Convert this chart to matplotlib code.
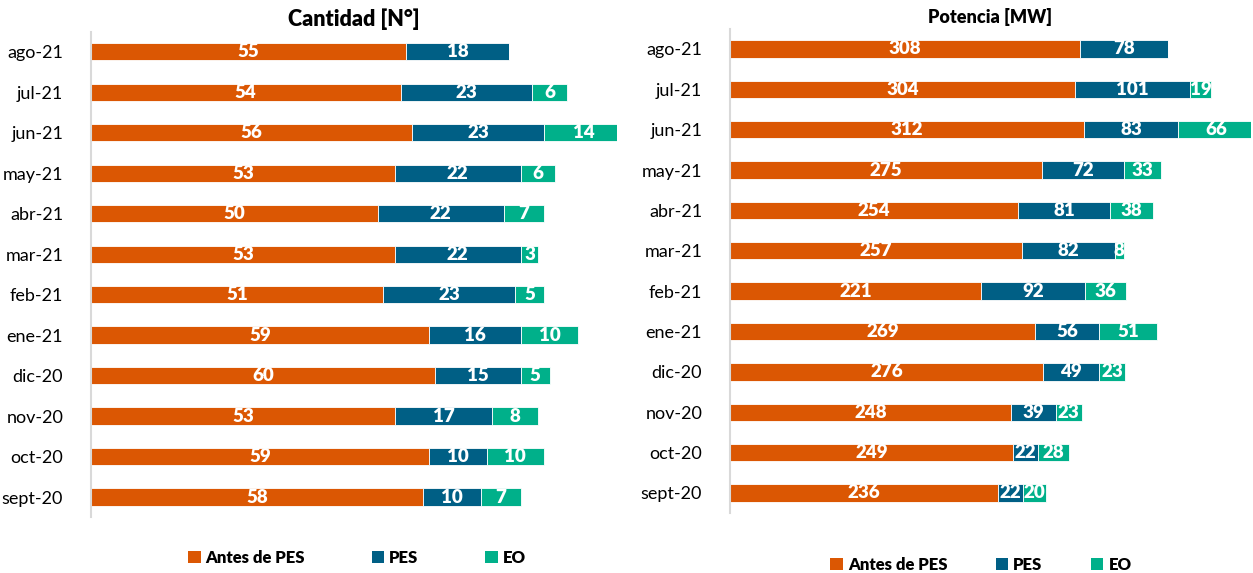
import matplotlib
matplotlib.use("Agg")
import matplotlib.pyplot as plt
from matplotlib.patches import Patch
import numpy as np

plt.rcParams['font.family'] = ['Lato', 'DejaVu Sans']

categories = ["sept-20", "oct-20", "nov-20", "dic-20", "ene-21", "feb-21",
              "mar-21", "abr-21", "may-21", "jun-21", "jul-21", "ago-21"]

cant_antes = [58, 59, 53, 60, 59, 51, 53, 50, 53, 56, 54, 55]
cant_pes = [10, 10, 17, 15, 16, 23, 22, 22, 22, 23, 23, 18]
cant_eo = [7, 10, 8, 5, 10, 5, 3, 7, 6, 14, 6, 0]

pot_antes = [236, 249, 248, 276, 269, 221, 257, 254, 275, 312, 304, 308]
pot_pes = [22, 22, 39, 49, 56, 92, 82, 81, 72, 83, 101, 78]
pot_eo = [20, 28, 23, 23, 51, 36, 8, 38, 33, 66, 19, 0]

series_names = ["Antes de PES", "PES", "EO"]
colors = ["#DB5703", "#005F85", "#00B08A"]

fig = plt.figure(figsize=(12.53, 5.73), dpi=100)

def draw(ax, data, xmax, title, title_size):
    y = np.arange(len(categories))
    left = np.zeros(len(categories))
    for vals, col in zip(data, colors):
        vals = np.array(vals, dtype=float)
        ax.barh(y, vals, left=left, height=0.43, color=col,
                edgecolor="white", linewidth=0.6, clip_on=True)
        for yi, (l, v) in enumerate(zip(left, vals)):
            if v > 0:
                ax.text(l + v / 2, yi, f"{int(v)}", ha="center", va="center",
                        color="white", fontsize=13.5, fontweight="heavy")
        left = left + vals
    ax.set_xlim(0, xmax)
    ax.set_ylim(-0.5, len(categories) - 0.5)
    ax.set_yticks(y)
    ax.set_yticklabels(categories, fontsize=13)
    ax.tick_params(axis="y", length=0, pad=20)
    ax.set_xticks([])
    for s in ["top", "right", "bottom"]:
        ax.spines[s].set_visible(False)
    ax.spines["left"].set_color("#D9D9D9")
    ax.spines["left"].set_linewidth(1.5)
    ax.set_title(title, fontsize=title_size, fontweight="heavy", pad=4)

ax1 = fig.add_axes([0.0726, 0.097, 0.42, 0.848])
draw(ax1, [cant_antes, cant_pes, cant_eo], 91.8, "Cantidad [N°]", 15.5)

ax2 = fig.add_axes([0.5826, 0.1044, 0.4158, 0.8454])
draw(ax2, [pot_antes, pot_pes, pot_eo], 459, "Potencia [MW]", 13)

handles = [Patch(facecolor=c, edgecolor="none") for c in colors]
leg_kw = dict(ncol=3, frameon=False, handlelength=0.75, handleheight=0.75,
              handletextpad=0.3, prop={"weight": "heavy", "size": 12})
fig.legend(handles, series_names, loc="center", columnspacing=4.0,
           bbox_to_anchor=(357 / 1253, 1 - 558 / 573), **leg_kw)
fig.legend(handles, series_names, loc="center", columnspacing=2.9,
           bbox_to_anchor=(981 / 1253, 1 - 565 / 573), **leg_kw)

fig.savefig("out.png", dpi=100)
